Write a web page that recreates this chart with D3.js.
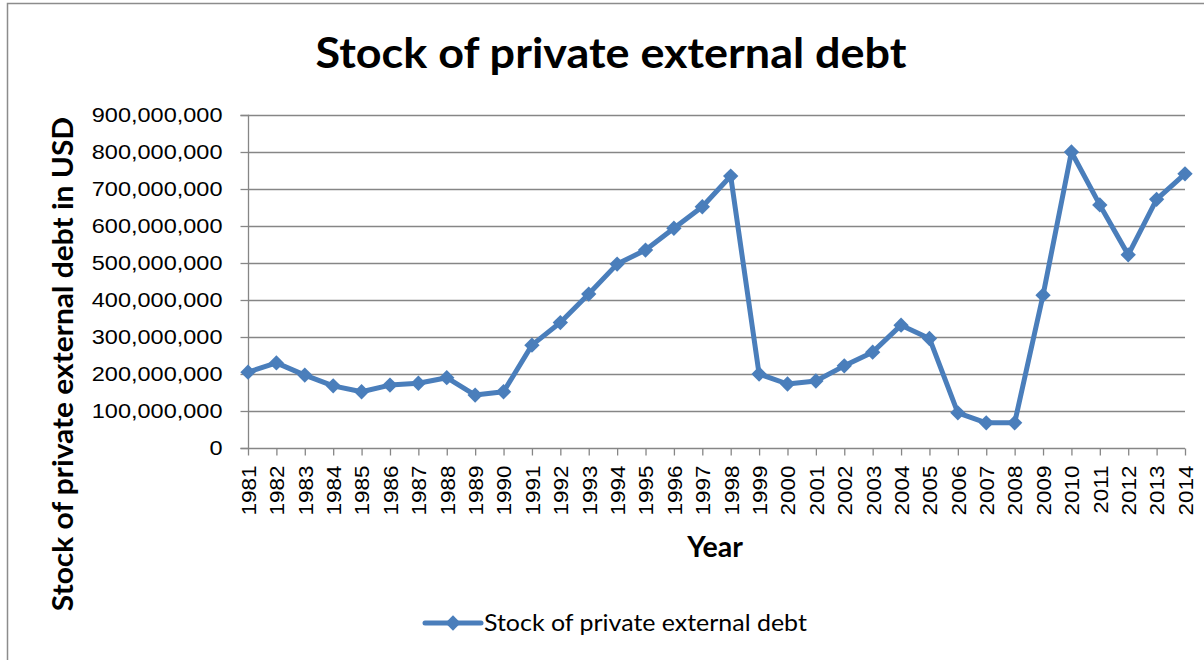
<!DOCTYPE html>
<html>
<head>
<meta charset="utf-8">
<script src="https://cdn.jsdelivr.net/npm/d3@7"></script>
<style>
  body { margin: 0; background: #fff; }
  svg { display: block; font-family: Lato, "Open Sans", sans-serif; }
</style>
</head>
<body>
<svg id="chart" width="1204" height="660"></svg>
<script>
// Stock of private external debt, USD, 1981–2014
const years = [1981,1982,1983,1984,1985,1986,1987,1988,1989,1990,1991,1992,1993,1994,1995,1996,1997,1998,1999,2000,2001,2002,2003,2004,2005,2006,2007,2008,2009,2010,2011,2012,2013,2014];
const debt = [205e6,230e6,197e6,168e6,152e6,170e6,175e6,190e6,143e6,152e6,278e6,339e6,416e6,497e6,535e6,594e6,652e6,735e6,200e6,173e6,181e6,222e6,259e6,332e6,296e6,95e6,68e6,68e6,413e6,800e6,657e6,522e6,672e6,741e6];
const yTicks = [0,100e6,200e6,300e6,400e6,500e6,600e6,700e6,800e6,900e6];
const seriesName = "Stock of private external debt";

const blue = "#4A7EBB";
const grid = "#868686";
const svg = d3.select("#chart");

// outer frame
svg.append("path").attr("d", "M7.5,660 V3.5 H1204")
  .attr("fill", "none").attr("stroke", "#8c8c8c").attr("stroke-width", 1.5);

const plot = { left: 248, right: 1185, top: 115, bottom: 448 };

const x = d3.scalePoint().domain(years).range([plot.left, plot.right]);
const y = d3.scaleLinear().domain([0, 900e6]).range([plot.bottom, plot.top]);

// horizontal gridlines
svg.append("g").selectAll("line").data(yTicks.filter(d => d > 0)).join("line")
  .attr("x1", plot.left).attr("x2", plot.right)
  .attr("y1", d => Math.round(y(d)) + 0.5).attr("y2", d => Math.round(y(d)) + 0.5)
  .attr("stroke", grid).attr("stroke-width", 1.3);

// y axis
const yAxis = svg.append("g").attr("transform", `translate(${plot.left + 0.5},0)`)
  .call(d3.axisLeft(y).tickValues(yTicks).tickSize(8)
    .tickFormat(d => d === 0 ? "0" : d3.format(",")(d)));
yAxis.select(".domain").attr("stroke", grid).attr("stroke-width", 1.3).attr("d", `M-8,${plot.top + 0.5}H0V${plot.bottom + 0.5}H-8`);
yAxis.selectAll(".tick line").attr("stroke", grid).attr("stroke-width", 1.3);
yAxis.selectAll("text").attr("font-size", 21).attr("fill", "#000")
  .attr("x", 0).attr("transform", "translate(-26,0) scale(1.12,1)");

// x axis
const xAxis = svg.append("g").attr("transform", `translate(0,${plot.bottom + 0.5})`)
  .call(d3.axisBottom(x).tickSize(7));
xAxis.select(".domain").attr("stroke", grid).attr("stroke-width", 1.3).attr("d", `M${plot.left},0H${plot.right}`);
xAxis.selectAll(".tick line").attr("stroke", grid).attr("stroke-width", 1.3);
xAxis.selectAll("text")
  .attr("font-size", 21).attr("fill", "#000")
  .attr("transform", "rotate(-90) translate(-17,0) scale(1.07,1)")
  .attr("text-anchor", "end")
  .attr("x", 0).attr("y", 0).attr("dy", "0.35em");

// series line
const line = d3.line().x((d, i) => x(years[i])).y(d => y(d));
svg.append("path").datum(debt)
  .attr("d", line).attr("fill", "none")
  .attr("stroke", blue).attr("stroke-width", 5).attr("stroke-linejoin", "round");

// diamond markers
const diamond = d3.symbol().type(d3.symbolDiamond2).size(150);
svg.append("g").selectAll("path").data(debt).join("path")
  .attr("transform", (d, i) => `translate(${x(years[i])},${y(d)})`)
  .attr("d", diamond).attr("fill", blue);

// titles
svg.append("text").attr("transform", "translate(611,68) scale(1.07,1)").attr("text-anchor", "middle")
  .attr("font-size", 42).attr("font-weight", "bold").text(seriesName);
svg.append("text").attr("transform", "translate(715,557) scale(1.02,1)").attr("text-anchor", "middle")
  .attr("font-size", 28).attr("font-weight", "bold").text("Year");
svg.append("text").attr("transform", "translate(73,364) rotate(-90) scale(1.07,1)").attr("text-anchor", "middle")
  .attr("font-size", 28).attr("font-weight", "bold").text("Stock of private external debt in USD");

// legend
const lg = svg.append("g").attr("transform", "translate(425,623)");
lg.append("line").attr("x1", 0).attr("x2", 56).attr("stroke", blue).attr("stroke-width", 5).attr("stroke-linecap", "round");
lg.append("path").attr("transform", "translate(28,0)").attr("d", diamond).attr("fill", blue);
lg.append("text").attr("transform", "translate(59,0) scale(1.04,1)").attr("dy", "0.35em").attr("font-size", 24).text(seriesName);
</script>
</body>
</html>
